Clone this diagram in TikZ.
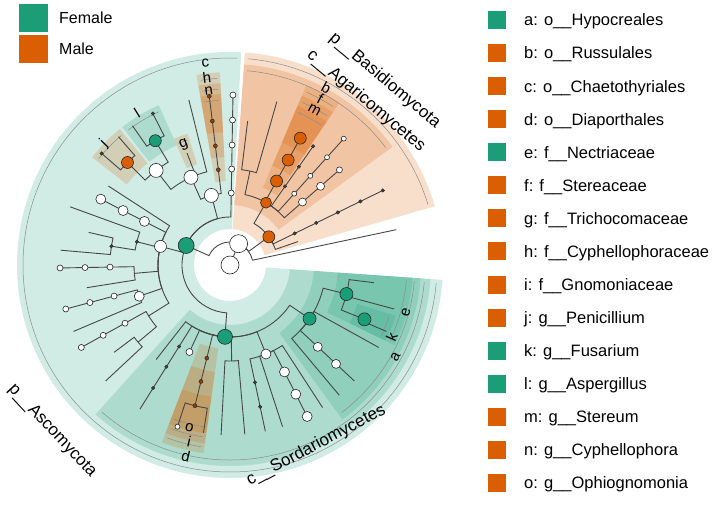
\documentclass[tikz,border=0pt]{standalone}
\usepackage{fontspec}
\setmainfont{Liberation Sans}
\definecolor{female}{HTML}{1B9E77}
\definecolor{male}{HTML}{D95F02}
\pgfdeclarelayer{bg}
\pgfsetlayers{bg,main}
\tikzset{
  branch/.style={draw=black!72, line width=0.9},
  ring/.style={draw=black!45, line width=0.5},
  fnode/.style={circle, draw=black!85, line width=0.6, fill=female, inner sep=0pt, minimum size=#1},
  mnode/.style={circle, draw=black!85, line width=0.6, fill=male, inner sep=0pt, minimum size=#1},
  wnode/.style={circle, draw=black!85, line width=0.6, fill=white, inner sep=0pt, minimum size=#1},
  dnode/.style={circle, draw=black!85, line width=0.4, fill=black!75, inner sep=0pt, minimum size=3.5pt},
  onode/.style={circle, draw=black!85, line width=0.4, fill=male!65!black, inner sep=0pt, minimum size=4pt},
  letter/.style={font=\fontsize{15}{15}\selectfont, inner sep=0pt},
  taxon/.style={font=\fontsize{17}{17}\selectfont, inner sep=0pt},
  key/.style={inner sep=0pt, minimum size=18pt},
  keytext/.style={anchor=base west, inner sep=0pt, font=\fontsize{16.5}{18}\selectfont}
}
\newcommand{\branchto}[5]{\draw[branch] (#1.center) arc[start angle=#2, end angle=#4, radius=#3] -- (#5.center);}
\newcommand{\clade}[5]{%
  \pgfmathsetmacro\cladeA{#1+1}\pgfmathsetmacro\cladeB{#2-1}\pgfmathsetmacro\cladeR{#4-6}%
  \fill[#5, fill opacity=0.2] (#1:#3) arc[start angle=#1, end angle=#2, radius=#3] -- (#2:#4) arc[start angle=#2, end angle=#1, radius=#4] -- cycle;
  \draw[ring] (\cladeA:\cladeR) arc[start angle=\cladeA, end angle=\cladeB, radius=\cladeR];}

\begin{document}
\begin{tikzpicture}[x=1pt, y=1pt]
  \useasboundingbox (0,0) rectangle (718,-504);
  \def \radK {23}
  \def \radP {48}
  \def \radC {72}
  \def \radO {96}
  \def \radF {120}
  \def \radG {145}
  \def \radS {170}

  \begin{scope}[shift={(230,-265)}]
    \node[wnode=18pt] (R) at (0,0) {};
    \node[wnode=18pt] (K) at (68:\radK) {};
    \coordinate (U) at (12:\radS);
    \node[fnode=16pt] (P1) at (156:\radP) {};
    \node[mnode=12pt] (P2) at (36:\radP) {};

    \node[mnode=11pt] (Cag) at (60:\radC) {};
    \coordinate (Cx) at (19:\radC);
    \foreach \n/\r in {1/\radC, 2/\radO, 3/\radF, 4/\radG, 5/\radS}
      \node[dnode] (bb\n) at (26:\r) {};
    \coordinate (Oq) at (78:\radO);
    \coordinate (Oq1) at (83:\radG);
    \coordinate (Oq2) at (74:\radS);
    \node[mnode=12pt] (Ob) at (61:\radO) {};
    \node[mnode=12pt] (Ff) at (61:\radF) {};
    \node[mnode=12pt] (Gm) at (61:\radG) {};
    \foreach \n/\r in {1/\radO, 2/\radF, 3/\radG}
      \node[dnode] (ag\n) at (55:\r) {};
    \foreach \n/\r in {1/\radO, 2/\radF, 3/\radG, 4/\radS}
      \node[wnode=5pt] (ah\n) at (48:\r) {};
    \node[wnode=8pt] (ai1) at (41:\radO) {};
    \node[wnode=8pt] (ai2) at (41:\radF) {};
    \node[wnode=6pt] (ai3) at (41:\radG) {};

    \foreach \n/\r in {1/\radC, 2/\radO, 3/\radF, 4/\radG, 5/\radS}
      \node[wnode=6pt] (aa\n) at (89:\r) {};
    \node[wnode=14pt] (A1) at (105:\radC) {};
    \node[wnode=12pt] (A2) at (165:\radC) {};
    \node[fnode=15pt] (Sor) at (266:\radC) {};

    \foreach \n/\r in {1/\radO, 2/\radF, 3/\radG, 4/\radS}
      \node[onode] (cc\n) at (97:\r) {};
    \node[wnode=14pt] (Oeu) at (114:\radO) {};
    \coordinate (Lx) at (104:\radS);
    \coordinate (Fg) at (111:\radF);
    \node[wnode=14pt] (Fa) at (128:\radF) {};
    \node[fnode=12pt] (Gl) at (121:\radG) {};
    \node[mnode=12pt] (Gj) at (135:\radG) {};
    \node[dnode] (sl1) at (117:\radS) {};
    \coordinate (sl2) at (125:\radS);
    \coordinate (sj1) at (131:\radS);
    \node[dnode] (sj2) at (139:\radS) {};

    \coordinate (L147) at (147:\radG);
    \foreach \n/\r in {1/\radO, 2/\radF, 3/\radG}
      \node[wnode=10pt] (ba\n) at (153:\r) {};
    \node[dnode] (O166) at (166:\radO) {};
    \coordinate (L160) at (160:\radS);
    \node[dnode] (F171) at (171:\radF) {};
    \coordinate (L167) at (167:\radG);
    \coordinate (L175) at (175:\radS);
    \coordinate (O185) at (185:\radO);
    \foreach \n/\r in {1/\radF, 2/\radG, 3/\radS}
      \node[wnode=6pt] (bc\n) at (181:\r) {};
    \coordinate (L189) at (189:\radG);
    \node[wnode=10pt] (O199) at (199:\radO) {};
    \foreach \n/\r in {1/\radF, 2/\radG, 3/\radS}
      \node[wnode=6pt] (bd\n) at (195:\r) {};
    \coordinate (L203) at (203:\radS);
    \coordinate (O212) at (212:\radO);
    \foreach \n/\r in {1/\radF, 2/\radG, 3/\radS}
      \node[wnode=6pt] (be\n) at (209:\r) {};
    \coordinate (F220) at (220:\radF);
    \coordinate (L217) at (217:\radG);
    \coordinate (L223) at (223:\radS);

    \coordinate (L232) at (232:\radF);
    \foreach \n/\r in {1/\radO, 2/\radF, 3/\radG}
      \node[dnode] (sa\n) at (238:\r) {};
    \coordinate (sa4) at (238:\radS);
    \node[wnode=7pt] (O245) at (245:\radO) {};
    \node[onode] (Od) at (256:\radO) {};
    \node[onode] (Fi) at (256:\radF) {};
    \node[onode] (Go) at (256:\radG) {};
    \node[wnode=5pt] (L252) at (252:\radS) {};
    \coordinate (L261) at (261:\radS);
    \coordinate (O271) at (271:\radO);
    \coordinate (L267) at (267:\radS);
    \coordinate (L275) at (275:\radS);
    \node[wnode=10pt] (O292) at (292:\radO) {};
    \node[dnode] (sb1) at (282:\radF) {};
    \node[dnode] (sb2) at (282:\radG) {};
    \coordinate (sb3) at (282:\radS);
    \coordinate (L288) at (288:\radS);
    \foreach \n/\r in {1/\radF, 2/\radG, 3/\radS}
      \node[wnode=10pt] (sc\n) at (297:\r) {};
    \coordinate (L303) at (303:\radS);
    \node[fnode=13pt] (Oa) at (326:\radO) {};
    \coordinate (L310) at (310:\radS);
    \node[wnode=9pt] (sd1) at (317:\radF) {};
    \node[wnode=9pt] (sd2) at (317:\radG) {};
    \coordinate (sd3) at (317:\radS);
    \coordinate (L331) at (331:\radS);
    \node[fnode=13pt] (Fe) at (346:\radF) {};
    \node[fnode=13pt] (Gk) at (338:\radG) {};
    \coordinate (L337) at (337:\radS);
    \coordinate (L345) at (345:\radS);
    \coordinate (L353) at (353:\radG);

    \begin{pgfonlayer}{bg}
      \clade{87}{356}{36}{213}{female}
      \clade{16}{86}{36}{213}{male}
      \clade{228}{356}{60}{201}{female}
      \clade{36}{86}{60}{201}{male}
      \clade{306}{356}{84}{191}{female}
      \clade{334}{356}{108}{183}{female}
      \clade{334}{343}{133}{173}{female}
      \clade{93}{100}{84}{193}{male}
      \clade{93}{100}{108}{182}{male}
      \clade{93}{100}{133}{171}{male}
      \clade{108}{114}{106}{138}{male}
      \clade{114}{128}{131}{175}{female}
      \clade{129}{142}{131}{175}{male}
      \clade{56}{67}{84}{195}{male}
      \clade{56}{67}{108}{184}{male}
      \clade{56}{67}{133}{173}{male}
      \clade{249}{262}{84}{190}{male}
      \clade{249}{262}{108}{180}{male}
      \clade{249}{262}{133}{170}{male}

      \draw[branch] (R.center) -- (K.center);
      \branchto{K}{68}{\radK}{156}{P1}
      \branchto{K}{68}{\radK}{36}{P2}
      \branchto{K}{68}{\radK}{12}{U}

      \branchto{P2}{36}{\radP}{60}{Cag}
      \branchto{P2}{36}{\radP}{26}{bb1}
      \branchto{P2}{36}{\radP}{19}{Cx}
      \draw[branch] (bb1.center) -- (bb5.center);
      \branchto{Cag}{60}{\radC}{78}{Oq}
      \branchto{Oq}{78}{\radO}{83}{Oq1}
      \branchto{Oq}{78}{\radO}{74}{Oq2}
      \branchto{Cag}{60}{\radC}{61}{Ob}
      \draw[branch] (Ob.center) -- (Gm.center);
      \branchto{Cag}{60}{\radC}{55}{ag1}
      \draw[branch] (ag1.center) -- (ag3.center);
      \branchto{Cag}{60}{\radC}{48}{ah1}
      \draw[branch] (ah1.center) -- (ah4.center);
      \branchto{Cag}{60}{\radC}{41}{ai1}
      \draw[branch] (ai1.center) -- (ai3.center);

      \branchto{P1}{156}{\radP}{89}{aa1}
      \draw[branch] (aa1.center) -- (aa5.center);
      \branchto{P1}{156}{\radP}{105}{A1}
      \branchto{P1}{156}{\radP}{165}{A2}
      \branchto{P1}{156}{\radP}{266}{Sor}

      \branchto{A1}{105}{\radC}{97}{cc1}
      \draw[branch] (cc1.center) -- (cc4.center);
      \branchto{A1}{105}{\radC}{114}{Oeu}
      \branchto{Oeu}{114}{\radO}{104}{Lx}
      \branchto{Oeu}{114}{\radO}{111}{Fg}
      \branchto{Oeu}{114}{\radO}{128}{Fa}
      \branchto{Fa}{128}{\radF}{121}{Gl}
      \branchto{Fa}{128}{\radF}{135}{Gj}
      \branchto{Gl}{121}{\radG}{117}{sl1}
      \branchto{Gl}{121}{\radG}{125}{sl2}
      \branchto{Gj}{135}{\radG}{131}{sj1}
      \branchto{Gj}{135}{\radG}{139}{sj2}

      \branchto{A2}{165}{\radC}{147}{L147}
      \branchto{A2}{165}{\radC}{153}{ba1}
      \draw[branch] (ba1.center) -- (ba3.center);
      \branchto{A2}{165}{\radC}{166}{O166}
      \branchto{O166}{166}{\radO}{160}{L160}
      \branchto{O166}{166}{\radO}{171}{F171}
      \branchto{F171}{171}{\radF}{167}{L167}
      \branchto{F171}{171}{\radF}{175}{L175}
      \branchto{A2}{165}{\radC}{185}{O185}
      \branchto{O185}{185}{\radO}{181}{bc1}
      \draw[branch] (bc1.center) -- (bc3.center);
      \branchto{O185}{185}{\radO}{189}{L189}
      \branchto{A2}{165}{\radC}{199}{O199}
      \branchto{O199}{199}{\radO}{195}{bd1}
      \draw[branch] (bd1.center) -- (bd3.center);
      \branchto{O199}{199}{\radO}{203}{L203}
      \branchto{A2}{165}{\radC}{212}{O212}
      \branchto{O212}{212}{\radO}{209}{be1}
      \draw[branch] (be1.center) -- (be3.center);
      \branchto{O212}{212}{\radO}{220}{F220}
      \branchto{F220}{220}{\radF}{217}{L217}
      \branchto{F220}{220}{\radF}{223}{L223}

      \branchto{Sor}{266}{\radC}{232}{L232}
      \branchto{Sor}{266}{\radC}{238}{sa1}
      \draw[branch] (sa1.center) -- (sa4.center);
      \branchto{Sor}{266}{\radC}{245}{O245}
      \branchto{Sor}{266}{\radC}{256}{Od}
      \draw[branch] (Od.center) -- (Go.center);
      \branchto{Go}{256}{\radG}{252}{L252}
      \branchto{Go}{256}{\radG}{261}{L261}
      \branchto{Sor}{266}{\radC}{271}{O271}
      \branchto{O271}{271}{\radO}{267}{L267}
      \branchto{O271}{271}{\radO}{275}{L275}
      \branchto{Sor}{266}{\radC}{292}{O292}
      \branchto{O292}{292}{\radO}{282}{sb1}
      \draw[branch] (sb1.center) -- (sb3.center);
      \branchto{O292}{292}{\radO}{288}{L288}
      \branchto{O292}{292}{\radO}{297}{sc1}
      \draw[branch] (sc1.center) -- (sc3.center);
      \branchto{O292}{292}{\radO}{303}{L303}
      \branchto{Sor}{266}{\radC}{326}{Oa}
      \branchto{Oa}{326}{\radO}{310}{L310}
      \branchto{Oa}{326}{\radO}{317}{sd1}
      \draw[branch] (sd1.center) -- (sd3.center);
      \branchto{Oa}{326}{\radO}{331}{L331}
      \branchto{Oa}{326}{\radO}{346}{Fe}
      \branchto{Fe}{346}{\radF}{338}{Gk}
      \branchto{Gk}{338}{\radG}{337}{L337}
      \branchto{Fe}{346}{\radF}{345}{L345}
      \branchto{Fe}{346}{\radF}{353}{L353}
    \end{pgfonlayer}

    \node[letter, rotate=7] (tc) at (97:203) {c};
    \node[letter, rotate=7] (th) at (97:189) {h};
    \node[letter, rotate=7] (tn) at (97:175) {n};
    \node[letter, rotate=21] (tg) at (111:129) {g};
    \node[letter, rotate=31.5] (tl) at (121.5:178) {l};
    \node[letter, rotate=46] (tj) at (136:175) {j};
    \node[letter, rotate=-28.5] (tb) at (61.5:202) {b};
    \node[letter, rotate=-28.5] (tf) at (61.5:189) {f};
    \node[letter, rotate=-28.5] (tm) at (61.5:177) {m};
    \node[letter, rotate=-13] (td) at (257:196) {d};
    \node[letter, rotate=-13] (ti) at (257:181) {i};
    \node[letter, rotate=-14] (to) at (256:168) {o};
    \node[letter, rotate=61] (ta) at (331:189) {a};
    \node[letter, rotate=75] (te) at (345:182) {e};
    \node[letter, rotate=66] (tk) at (336:177) {k};

    \node[taxon, rotate=-47] (tAsc) at (223:243) {p\_\_Ascomycota};
    \node[taxon, rotate=-40] (tBas) at (50:241) {p\_\_Basidiomycota};
    \node[taxon, rotate=-40] (tAga) at (50.3:213) {c\_\_Agaricomycetes};
    \node[taxon, rotate=28] (tSor) at (-64.5:200) {c\_\_Sordariomycetes};
  \end{scope}

  \node[fill=female, inner sep=0pt, minimum width=29pt, minimum height=28pt] (fem) at (33.5,-18) {};
  \node[fill=male, inner sep=0pt, minimum width=29pt, minimum height=28pt] (mal) at (33.5,-49) {};
  \node[keytext, font=\fontsize{16}{18}\selectfont] (femt) at (59,-23.7) {Female};
  \node[keytext, font=\fontsize{16}{18}\selectfont] (malt) at (59,-54.7) {Male};

  \foreach \ltr/\txt/\col [count=\i from 0] in {a/o\_\_Hypocreales/female, b/o\_\_Russulales/male,
      c/o\_\_Chaetothyriales/male, d/o\_\_Diaporthales/male, e/f\_\_Nectriaceae/female,
      f/f\_\_Stereaceae/male, g/f\_\_Trichocomaceae/male, h/f\_\_Cyphellophoraceae/male,
      i/f\_\_Gnomoniaceae/male, j/g\_\_Penicillium/male, k/g\_\_Fusarium/female,
      l/g\_\_Aspergillus/female, m/g\_\_Stereum/male, n/g\_\_Cyphellophora/male,
      o/g\_\_Ophiognomonia/male}
  {
    \node[key, fill=\col] (key\ltr) at (497,{-20-33.07*\i}) {};
    \node[keytext] (txt\ltr) at (524,{-25.9-33.07*\i}) {\ltr: \txt};
  }
\end{tikzpicture}
\end{document}
